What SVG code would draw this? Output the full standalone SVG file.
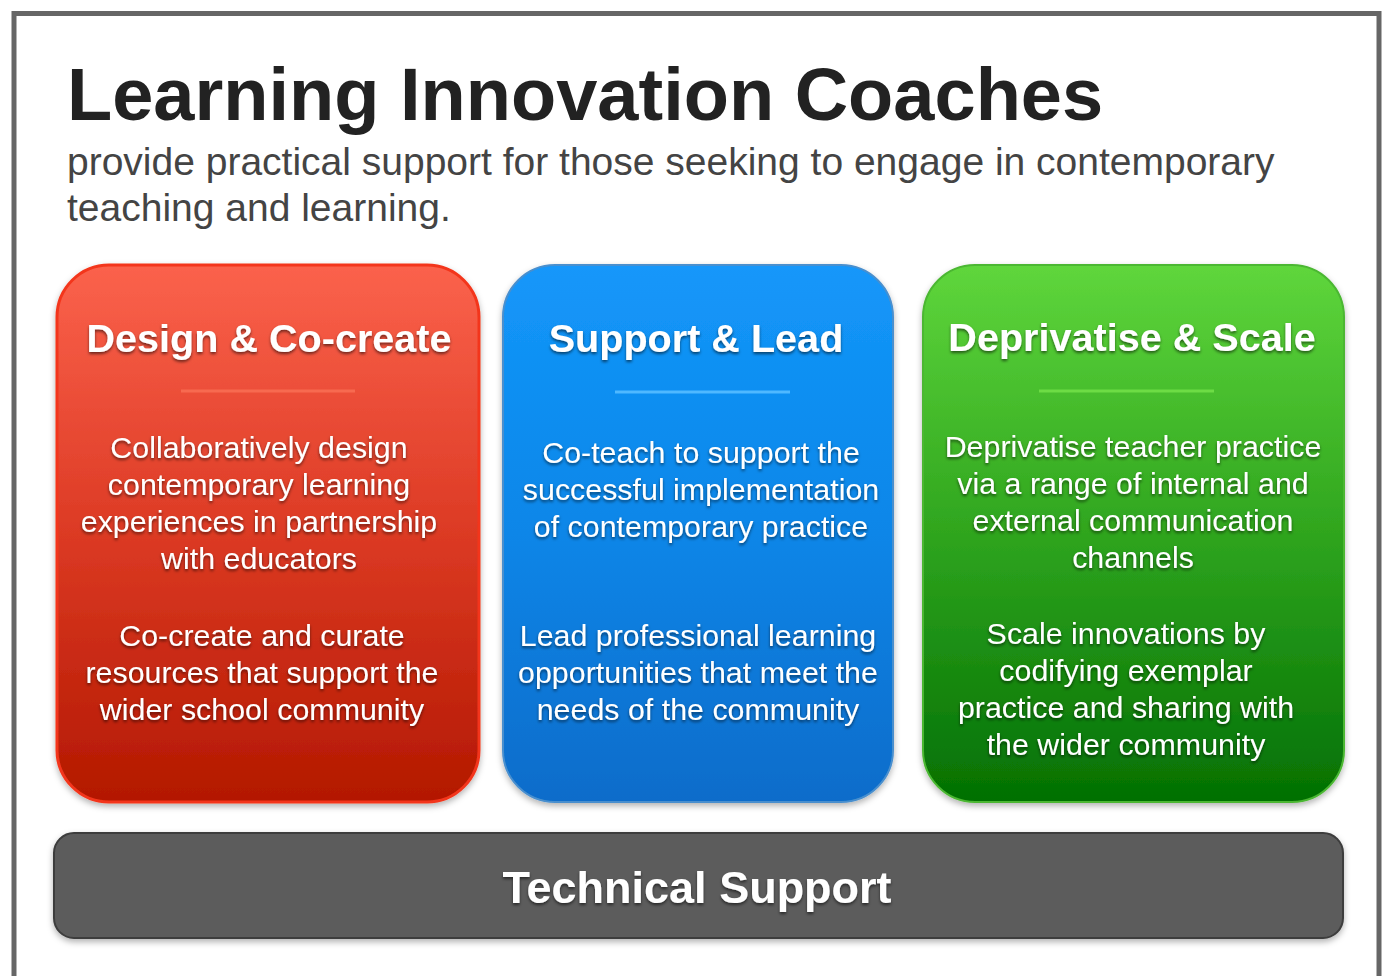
<svg xmlns="http://www.w3.org/2000/svg" width="1384" height="976" viewBox="0 0 1384 976">
<defs>
<linearGradient id="gRed" x1="0" y1="0" x2="0" y2="1">
<stop offset="0" stop-color="#fb624c"/><stop offset="0.5" stop-color="#dc3a24"/><stop offset="1" stop-color="#b31800"/>
</linearGradient>
<linearGradient id="gBlue" x1="0" y1="0" x2="0" y2="1">
<stop offset="0" stop-color="#1497fa"/><stop offset="0.5" stop-color="#0a86e8"/><stop offset="1" stop-color="#086cca"/>
</linearGradient>
<linearGradient id="gGreen" x1="0" y1="0" x2="0" y2="1">
<stop offset="0" stop-color="#5fd63c"/><stop offset="0.5" stop-color="#2fa51e"/><stop offset="1" stop-color="#037003"/>
</linearGradient>
<filter id="boxShadow" x="-5%" y="-5%" width="110%" height="115%">
<feDropShadow dx="0" dy="3" stdDeviation="3" flood-color="#000" flood-opacity="0.3"/>
</filter>
<filter id="txtShadow" x="-5%" y="-20%" width="110%" height="150%">
<feDropShadow dx="0" dy="2" stdDeviation="1.5" flood-color="#000" flood-opacity="0.55"/>
</filter>
</defs>
<style>
.title{font-family:"Liberation Sans",Arial,sans-serif;font-weight:bold;font-size:74px;fill:#222}
.sub{font-family:"Liberation Sans",Arial,sans-serif;font-size:39px;fill:#444}
.head{font-family:"Liberation Sans",Arial,sans-serif;font-weight:bold;font-size:39.6px;fill:#fff;text-anchor:middle}
.body{font-family:"Liberation Sans",Arial,sans-serif;font-size:30.4px;fill:#fff;text-anchor:middle}
.tech{font-family:"Liberation Sans",Arial,sans-serif;font-weight:bold;font-size:45px;fill:#fff;text-anchor:middle}
</style>
<rect x="0" y="0" width="1384" height="976" fill="#fff"/>
<rect x="14" y="13.5" width="1365" height="965" fill="#fff" stroke="#666" stroke-width="5"/>
<g id="header">
<text class="title" x="67" y="120">Learning Innovation Coaches</text>
<text class="sub" x="67" y="175">provide practical support for those seeking to engage in contemporary</text>
<text class="sub" x="67" y="221">teaching and learning.</text>
</g>
<g id="design">
<rect x="57" y="265" width="422" height="537" rx="52" fill="url(#gRed)" stroke="#f3361a" stroke-width="3" filter="url(#boxShadow)"/>
<text class="head" x="269" y="352" filter="url(#txtShadow)">Design &amp; Co-create</text>
<line x1="181" y1="391" x2="355" y2="391" stroke="#f76a50" stroke-width="3"/>
<g filter="url(#txtShadow)">
<text class="body" x="259" y="458">Collaboratively design</text>
<text class="body" x="259" y="495">contemporary learning</text>
<text class="body" x="259" y="532">experiences in partnership</text>
<text class="body" x="259" y="569">with educators</text>
<text class="body" x="262" y="646">Co-create and curate</text>
<text class="body" x="262" y="683">resources that support the</text>
<text class="body" x="262" y="720">wider school community</text>
</g>
</g>
<g id="support">
<rect x="503" y="265" width="390" height="537" rx="52" fill="url(#gBlue)" stroke="#4a8fce" stroke-width="2" filter="url(#boxShadow)"/>
<text class="head" x="696" y="352" filter="url(#txtShadow)">Support &amp; Lead</text>
<line x1="615" y1="392" x2="790" y2="392" stroke="#4fb8ff" stroke-width="3"/>
<g filter="url(#txtShadow)">
<text class="body" x="701" y="463">Co-teach to support the</text>
<text class="body" x="701" y="500">successful implementation</text>
<text class="body" x="701" y="537">of contemporary practice</text>
<text class="body" x="698" y="646">Lead professional learning</text>
<text class="body" x="698" y="683">opportunities that meet the</text>
<text class="body" x="698" y="720">needs of the community</text>
</g>
</g>
<g id="deprivatise">
<rect x="923" y="265" width="421" height="537" rx="52" fill="url(#gGreen)" stroke="#4bb732" stroke-width="2" filter="url(#boxShadow)"/>
<text class="head" x="1132" y="351" filter="url(#txtShadow)">Deprivatise &amp; Scale</text>
<line x1="1039" y1="391" x2="1214" y2="391" stroke="#6ddc45" stroke-width="3"/>
<g filter="url(#txtShadow)">
<text class="body" x="1133" y="457">Deprivatise teacher practice</text>
<text class="body" x="1133" y="494">via a range of internal and</text>
<text class="body" x="1133" y="531">external communication</text>
<text class="body" x="1133" y="568">channels</text>
<text class="body" x="1126" y="644">Scale innovations by</text>
<text class="body" x="1126" y="681">codifying exemplar</text>
<text class="body" x="1126" y="718">practice and sharing with</text>
<text class="body" x="1126" y="755">the wider community</text>
</g>
</g>
<g id="technical">
<rect x="54" y="833" width="1289" height="105" rx="20" fill="#5c5c5c" stroke="#3c3c3c" stroke-width="2" filter="url(#boxShadow)"/>
<text class="tech" x="697" y="903" filter="url(#txtShadow)">Technical Support</text>
</g>
<g id="connectors"/>
</svg>
